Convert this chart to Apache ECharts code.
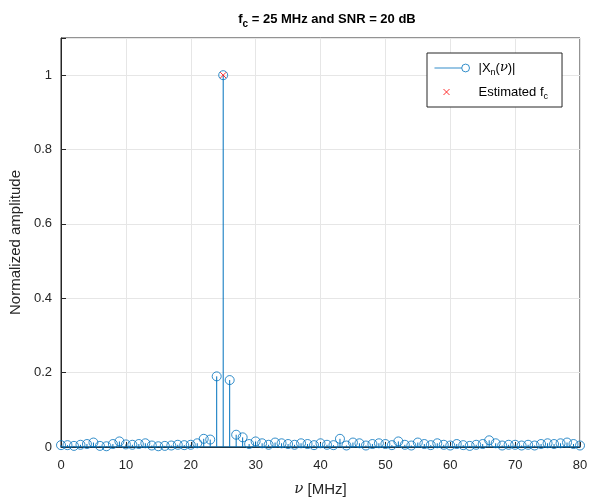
<!DOCTYPE html>
<html><head><meta charset="utf-8">
<script src="https://cdn.jsdelivr.net/npm/echarts@6/dist/echarts.min.js"></script>
<style>html,body{margin:0;padding:0;background:#fff}#c{width:589px;height:498px}</style>
</head><body><div id="c"></div>
<script>
const freqs = [];
for (let i = 0; i <= 80; i++) freqs.push(i);
const amplitude = [
 0.005,0.005,0.003,0.006,0.008,0.012,0.003,0.002,0.008,0.015,
 0.007,0.006,0.008,0.010,0.004,0.002,0.003,0.004,0.006,0.005,
 0.006,0.010,0.022,0.020,0.190,1.000,0.180,0.033,0.026,0.008,
 0.015,0.010,0.006,0.012,0.010,0.008,0.006,0.010,0.008,0.005,
 0.010,0.006,0.005,0.022,0.004,0.012,0.010,0.004,0.008,0.010,
 0.008,0.005,0.015,0.006,0.004,0.012,0.008,0.005,0.010,0.006,
 0.004,0.008,0.005,0.003,0.006,0.008,0.018,0.010,0.004,0.006,
 0.006,0.004,0.006,0.004,0.008,0.010,0.008,0.010,0.012,0.008,
 0.004
];
const estimated = [[25, 1.0]];
const xTicks = [0,10,20,30,40,50,60,70,80];
const yTicks = [0,0.2,0.4,0.6,0.8,1];

const stemData = freqs.map((f,i)=>[f, amplitude[i]]);
const blue = '#0072BD';
const txt = '#262626';
const font = 'Liberation Sans, Arial, Helvetica, sans-serif';
const chart = echarts.init(document.getElementById('c'));
chart.setOption({
  animation:false,
  backgroundColor:'#fff',
  title:{
    text:'{b|f}{s|c}{b| = 25 MHz and SNR = 20 dB}',
    left:322, top:4, textAlign:'center',
    textStyle:{rich:{
      b:{fontFamily:font,fontSize:13,fontWeight:'bold',color:'#000',lineHeight:20},
      s:{fontFamily:font,fontSize:10,fontWeight:'bold',color:'#000',padding:[10,0,0,0],lineHeight:20}
    }}
  },
  grid:{left:61,right:9,top:38,bottom:51,show:true,borderColor:txt,borderWidth:1,backgroundColor:'#fff',outerBoundsMode:'none',containLabel:false},
  legend:{
    orient:'vertical', left:427, top:53,
    padding:[6,14,6,4],
    borderColor:txt, borderWidth:1, backgroundColor:'#fff',
    itemWidth:36, itemHeight:9, itemGap:6,
    data:[
      {name:'amp', icon:'path://M0,0M36,9M1,4.5L29,4.5M29,4.5A4,4 0 1 1 37,4.5A4,4 0 1 1 29,4.5',
        itemStyle:{color:'none',borderColor:blue,borderWidth:1}},
      {name:'est', icon:'path://M0,0M36,9M10,1.5L16,7.5M16,1.5L10,7.5',
        itemStyle:{color:'none',borderColor:'#ff0000',borderWidth:1}}
    ],
    formatter:function(n){
      if(n==='amp') return '{t||X}{sub|n}{t|(}{i|ν}{t|)|}';
      return '{t|Estimated f}{sub|c}';
    },
    textStyle:{fontFamily:font,fontSize:13,color:'#000',padding:[0,0,0,4],rich:{
      t:{fontFamily:font,fontSize:13,color:'#000',lineHeight:20},
      i:{fontFamily:'DejaVu Serif, serif',fontStyle:'italic',fontSize:13,color:'#000',lineHeight:20},
      sub:{fontFamily:font,fontSize:9,color:'#000',padding:[9,0,0,0],lineHeight:20}
    }}
  },
  xAxis:{
    type:'value',min:0,max:80,interval:10,
    name:'{i|ν} [MHz]',nameLocation:'middle',nameGap:35,
    nameTextStyle:{fontFamily:font,fontSize:15,color:txt,rich:{
      i:{fontFamily:'DejaVu Serif, serif',fontStyle:'italic',fontSize:15,color:txt}}},
    axisLine:{show:true,onZero:false,lineStyle:{color:txt}},
    axisTick:{show:true,inside:true,length:5,lineStyle:{color:txt}},
    axisLabel:{fontFamily:font,fontSize:13,color:txt,margin:12},
    splitLine:{show:true,lineStyle:{color:'#e6e6e6'}}
  },
  yAxis:{
    type:'value',min:0,max:1.1,interval:0.2,
    name:'Normalized amplitude',nameLocation:'middle',nameGap:31,
    nameTextStyle:{fontFamily:font,fontSize:15,color:txt},
    axisLine:{show:true,lineStyle:{color:txt}},
    axisTick:{show:true,inside:true,length:5,lineStyle:{color:txt}},
    axisLabel:{fontFamily:font,fontSize:13,color:txt,margin:9,
      formatter:function(v){ if(Math.abs(v-1.1)<1e-6) return ''; return String(Math.round(v*10)/10);}},
    splitLine:{show:true,lineStyle:{color:'#e6e6e6'}}
  },
  series:[
    {type:'custom', data:stemData, silent:true, z:2,
      renderItem:function(params,api){
        const p0 = api.coord([api.value(0),0]);
        const p1 = api.coord([api.value(0),api.value(1)]);
        return {type:'line',shape:{x1:p0[0],y1:p0[1],x2:p1[0],y2:p1[1]},style:{stroke:blue,lineWidth:1}};
      }},
    {type:'line', name:'baseline', data:[[0,0],[80,0]], symbol:'none', lineStyle:{color:blue,width:1}, z:3, silent:true},
    {type:'scatter', name:'amp', data:stemData, symbol:'circle', symbolSize:9, z:4,
      itemStyle:{color:'rgba(0,0,0,0)',borderColor:blue,borderWidth:1}},
    {type:'scatter', name:'est', data:estimated, symbol:'path://M0,0L10,10M10,0L0,10', symbolSize:6, z:5,
      itemStyle:{color:'none',borderColor:'#ff0000',borderWidth:1}}
  ]
});
</script></body></html>
